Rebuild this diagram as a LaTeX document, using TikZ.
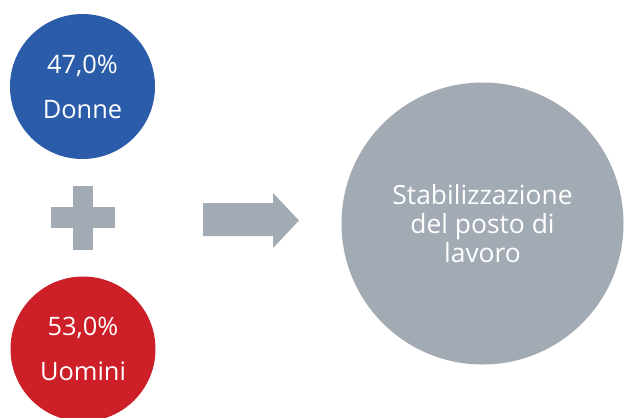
\documentclass[tikz,border=0pt]{standalone}
\usepackage{fontspec}
\setmainfont{Open Sans}
\usepackage{xcolor}
\usetikzlibrary{positioning}
\definecolor{donneblue}{RGB}{43,92,170}
\definecolor{uominired}{RGB}{204,31,40}
\definecolor{stabgray}{RGB}{162,170,179}
\tikzset{
	bubble/.style={
		circle,
		align=center,
		inner sep=0pt,
		text=white,
		minimum size=145bp,
		font=\fontsize{25.5}{45}\selectfont
	},
	bigbubble/.style={
		bubble,
		fill=stabgray,
		minimum size=282bp,
		font=\fontsize{26.5}{29}\selectfont
	}
}

\begin{document}
\begin{tikzpicture}[x=1bp,y=-1bp]
	\useasboundingbox (0,0) rectangle (625,417);
	\draw node[bubble, fill=donneblue] (Donne) at (82.5,86.5) {47,0\%\\ Donne};
	\draw node[bubble, fill=uominired] (Uomini) at (83,349) {53,0\%\\ Uomini};
	\draw node[bigbubble] (Stab) at (482.5,223.5) {Stabilizzazione\\ del posto di\\ lavoro};
	
	% plus
	\fill[stabgray] (73,186) rectangle (93,250);
	\fill[stabgray] (51,207) rectangle (115,228);
	
	% arrow
	\fill[stabgray] (203,203) -- (273,203) -- (273,193) -- (299,220.5)
		-- (273,248) -- (273,236) -- (203,236) -- cycle;
\end{tikzpicture}
\end{document}
